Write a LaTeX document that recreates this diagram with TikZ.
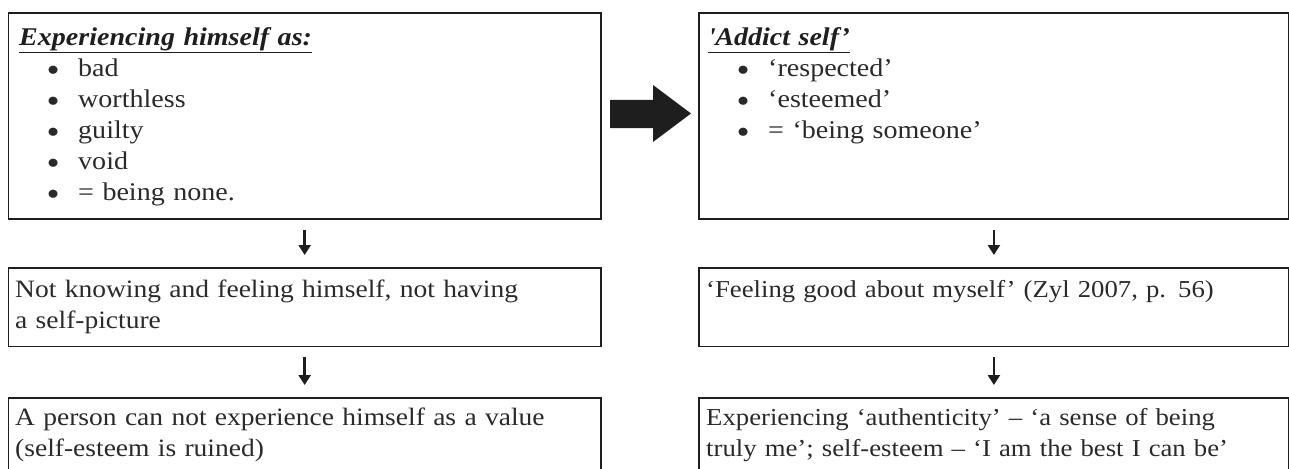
\documentclass[tikz,border=0pt]{standalone}
\usepackage{fontspec}
\setmainfont{Liberation Serif}[FakeStretch=1.1]
\usetikzlibrary{arrows.meta}
\definecolor{ink}{HTML}{2A2A2A}
\definecolor{frame}{HTML}{1E1E1E}
\newcommand{\dotmark}{\raisebox{-5.5pt}[0pt][0pt]{\fontsize{34}{31}\selectfont •}}
\newcommand{\bul}[2]{\hspace*{#1}\makebox[30pt][l]{\hspace*{-1.5pt}\dotmark}#2}
\newcommand{\tightlines}{\lineskiplimit=-100pt\relax}
\begin{document}
\begin{tikzpicture}[x=1pt,y=-1pt,
  box/.style={draw=frame, line width=1.8pt, inner sep=0pt, anchor=north west},
  txt/.style={inner sep=0pt, anchor=north west, align=left, text=ink,
    font=\fontsize{#1}{31}\selectfont},
  txt/.default=25.5,
  down/.style={draw=frame, line width=2.6pt, -{Triangle[width=12pt,length=10pt]},
    shorten <=10pt, shorten >=12pt}]
\useasboundingbox (0,0) rectangle (1289,468);
\clip (0,0) rectangle (1289,468);

% frames
\node[box, minimum width=592.5pt, minimum height=205.5pt] (L1) at (7.5,12.5) {};
\node[box, minimum width=590pt,   minimum height=205.5pt] (R1) at (698,12.5) {};
\node[box, minimum width=592.5pt, minimum height=78.5pt]  (L2) at (7.5,267) {};
\node[box, minimum width=590pt,   minimum height=78.5pt]  (R2) at (698,267) {};
\node[box, minimum width=592.5pt, minimum height=100pt]   (L3) at (7.5,397) {};
\node[box, minimum width=590pt,   minimum height=100pt]   (R3) at (698,397) {};

% texts
\node[txt, text width=560pt] (L1t) at ([shift={(11.5,10.8)}]L1.north west)
  {\tightlines\strut\textcolor{frame}{\textbf{\textit{\underline{Experiencing himself as:}}}}\\
   \bul{29pt}{bad}\\
   \bul{29pt}{worthless}\\
   \bul{29pt}{guilty}\\
   \bul{29pt}{void}\\
   \bul{29pt}{= being none.}};
\node[txt, text width=560pt] (R1t) at ([shift={(10,10.8)}]R1.north west)
  {\tightlines\strut\textcolor{frame}{\textbf{\textit{\underline{\textquotesingle Addict self’}}}}\\
   \bul{30pt}{‘respected’}\\
   \bul{30pt}{‘esteemed’}\\
   \bul{30pt}{= ‘being someone’}};
\node[txt=25, text width=570pt] (L2t) at ([shift={(7.5,8.3)}]L2.north west)
  {\strut Not knowing and feeling himself, not having\\ a self-picture};
\node[txt=24.3, text width=570pt] (R2t) at ([shift={(8,8.3)}]R2.north west)
  {\strut ‘Feeling good about myself’ (Zyl 2007, p. 56)};
\node[txt=25, text width=570pt] (L3t) at ([shift={(7.5,6.3)}]L3.north west)
  {\strut A person can not experience himself as a value\\ (self-esteem is ruined)};
\node[txt=24.3, text width=570pt] (R3t) at ([shift={(8,6.3)}]R3.north west)
  {\strut Experiencing ‘authenticity’ – ‘a sense of being\\ truly me’; self-esteem – ‘I am the best I can be’};

% block arrow between the two top frames
\fill[frame] (610,100) -- (653,100) -- (653,85) -- (691,113.5) -- (653,142)
  -- (653,128) -- (610,128) -- cycle;

% downward connectors
\draw[down] (L1) -- (L2);
\draw[down] (L2) -- (L3);
\draw[down] (R1) -- (R2);
\draw[down] (R2) -- (R3);
\end{tikzpicture}
\end{document}
